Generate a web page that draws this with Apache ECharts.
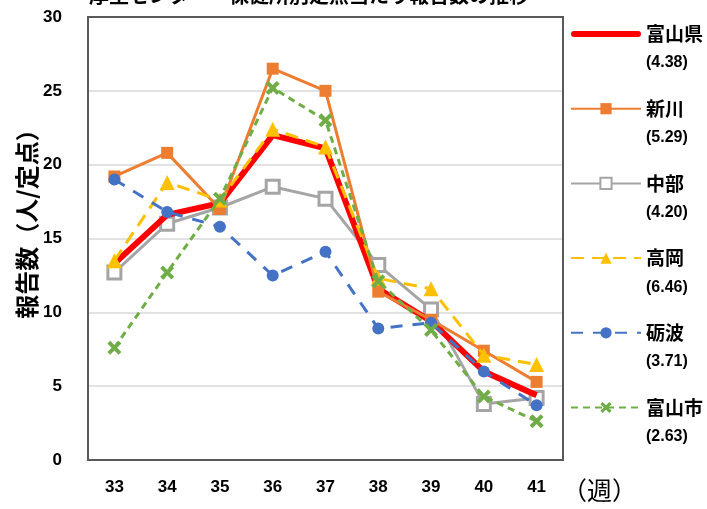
<!DOCTYPE html>
<html><head><meta charset="utf-8">
<script src="https://cdn.jsdelivr.net/npm/echarts@6/dist/echarts.min.js"></script>
<style>html,body{margin:0;padding:0;background:#fff}#c{width:707px;height:509px}</style>
</head><body><div id="c"></div>
<script>
const weeks = ['33','34','35','36','37','38','39','40','41'];
const toyamaPref = [13.3, 16.6, 17.4, 22.0, 21.1, 11.6, 9.4, 6.0, 4.38];
const niikawa    = [19.2, 20.8, 17.0, 26.5, 25.0, 11.4, 9.5, 7.4, 5.29];
const chubu      = [12.7, 16.0, 17.1, 18.5, 17.7, 13.2, 10.2, 3.8, 4.20];
const takaoka    = [13.5, 18.8, 17.6, 22.4, 21.2, 12.3, 11.6, 7.1, 6.46];
const tonami     = [19.0, 16.8, 15.8, 12.5, 14.1, 8.9, 9.3, 6.0, 3.71];
const toyamaCity = [7.6, 12.7, 17.7, 25.2, 23.0, 12.1, 8.8, 4.3, 2.63];
const seriesNames = ['富山県', '新川', '中部', '高岡', '砺波', '富山市'];
const latestLabels = ['(4.38)', '(5.29)', '(4.20)', '(6.46)', '(3.71)', '(2.63)'];
const titleText = '厚生センター・保健所別定点当たり報告数の推移';
const yAxisTitle = '報告数（人/定点）';
const xAxisUnit = '（週）';

const numFont = "'Liberation Sans Narrow','Liberation Sans','Noto Sans CJK JP',sans-serif";
const jpFont = "'Noto Sans CJK JP','Noto Sans',sans-serif";
const xPath = 'path://M2,0 L5,3 L8,0 L10,2 L7,5 L10,8 L8,10 L5,7 L2,10 L0,8 L3,5 L0,2 Z';
const thickLineIcon = 'path://M0,0 L0.05,0 L0,0.05 Z M0,14 L0.05,14 L0,13.95 Z M3,4 H67 A3,3 0 0 1 67,10 H3 A3,3 0 0 1 3,4 Z';
const G = {left: 88, top: 17, right: 144, bottom: 49};
const W = 707, H = 509;

const chart = echarts.init(document.getElementById('c'), null, {renderer: 'canvas'});
chart.setOption({
  animation: false,
  backgroundColor: '#fff',
  grid: {left: G.left, right: G.right, top: G.top, bottom: G.bottom, containLabel: false},
  xAxis: {
    type: 'category', data: weeks, boundaryGap: true,
    axisLine: {show: false}, axisTick: {show: false},
    axisLabel: {margin: 19, fontSize: 17, fontWeight: 'bold', color: '#000', fontFamily: numFont}
  },
  yAxis: {
    type: 'value', min: 0, max: 30, interval: 5,
    axisLine: {show: false}, axisTick: {show: false},
    axisLabel: {margin: 26, fontSize: 17, fontWeight: 'bold', color: '#000', fontFamily: numFont},
    splitLine: {lineStyle: {color: '#D9D9D9', width: 1.5}}
  },
  legend: {
    orient: 'vertical', left: 570, top: -2, itemGap: 1.7, padding: 0,
    itemWidth: 70, itemHeight: 14,
    data: seriesNames.map(function (n) {
      return n === '富山県' ? {name: n, icon: thickLineIcon} : {name: n};
    }),
    formatter: function (name) {
      const i = seriesNames.indexOf(name);
      return '{e| }\n{n|' + name + '}\n{v|' + latestLabels[i] + '}';
    },
    textStyle: {
      color: '#000', fontWeight: 'bold',
      rich: {
        e: {fontSize: 14, lineHeight: 22},
        n: {fontSize: 19, lineHeight: 36, fontWeight: 'bold', color: '#000', fontFamily: jpFont},
        v: {fontSize: 16, lineHeight: 22, fontWeight: 'bold', color: '#000', fontFamily: numFont}
      }
    }
  },
  graphic: [
    {type: 'text', left: 89, top: -15, style: {text: titleText, font: "bold 20px 'Noto Sans CJK JP'", fill: '#000'}},
    {type: 'text', left: 562, top: 478, style: {text: xAxisUnit, font: "25px 'Noto Sans CJK JP'", fill: '#000'}},
    {type: 'text', x: 27, y: 218, rotation: Math.PI / 2,
     style: {text: yAxisTitle, font: "bold 24px 'Noto Sans CJK JP'", fill: '#000', align: 'center', verticalAlign: 'middle'}},
    {type: 'rect', z: 100, silent: true,
     shape: {x: G.left, y: G.top, width: W - G.left - G.right, height: H - G.top - G.bottom},
     style: {fill: 'none', stroke: '#595959', lineWidth: 2}}
  ],
  series: [
    {name: '中部', type: 'line', data: chubu, z: 2, color: '#A5A5A5',
     symbol: 'rect', symbolSize: 13,
     lineStyle: {color: '#A5A5A5', width: 3},
     itemStyle: {color: '#fff', borderColor: '#A5A5A5', borderWidth: 3}},
    {name: '富山県', type: 'line', data: toyamaPref, z: 3, color: '#FF0000',
     symbol: 'none', lineStyle: {color: '#FF0000', width: 6}},
    {name: '新川', type: 'line', data: niikawa, z: 4, color: '#ED7D31',
     symbol: 'rect', symbolSize: 12,
     lineStyle: {color: '#ED7D31', width: 3},
     itemStyle: {color: '#ED7D31'}},
    {name: '高岡', type: 'line', data: takaoka, z: 5, color: '#FFC000',
     symbol: 'triangle', symbolSize: 15,
     lineStyle: {color: '#FFC000', width: 3, type: [13, 8]},
     itemStyle: {color: '#FFC000'}},
    {name: '砺波', type: 'line', data: tonami, z: 6, color: '#4472C4',
     symbol: 'circle', symbolSize: 12,
     lineStyle: {color: '#4472C4', width: 3, type: [12, 10]},
     itemStyle: {color: '#4472C4'}},
    {name: '富山市', type: 'line', data: toyamaCity, z: 7, color: '#70AD47',
     symbol: xPath, symbolSize: 14,
     lineStyle: {color: '#70AD47', width: 3, type: [7, 5]},
     itemStyle: {color: '#70AD47'}}
  ]
});
</script>
</body></html>
